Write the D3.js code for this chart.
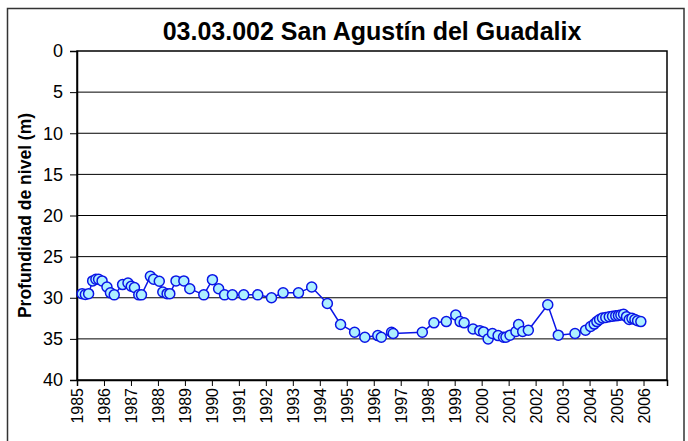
<!DOCTYPE html>
<html>
<head>
<meta charset="utf-8">
<script src="https://cdn.jsdelivr.net/npm/d3@7"></script>
<style>
body { margin: 0; background: #fff; }
text { font-family: "Liberation Sans", Arial, sans-serif; }
</style>
</head>
<body>
<div id="chart-area"></div>
<script>
// fecha (año decimal) y profundidad (m)
var fechas = [1985.19, 1985.31, 1985.43, 1985.58, 1985.70, 1985.80, 1985.93, 1986.11, 1986.24, 1986.38,
    1986.69, 1986.89, 1987.01, 1987.13, 1987.29, 1987.39, 1987.72, 1987.84, 1988.05, 1988.18,
    1988.34, 1988.44, 1988.67, 1988.96, 1989.18, 1989.70, 1990.02, 1990.25, 1990.47, 1990.76,
    1991.18, 1991.70, 1992.21, 1992.64, 1993.21, 1993.70, 1994.28, 1994.77, 1995.29, 1995.67,
    1996.15, 1996.28, 1996.66, 1996.72, 1997.80, 1998.23, 1998.69, 1999.04, 1999.20, 1999.35,
    1999.68, 1999.93, 2000.07, 2000.24, 2000.40, 2000.61, 2000.81, 2000.90, 2001.05, 2001.27,
    2001.37, 2001.52, 2001.73, 2002.45, 2002.84, 2003.46, 2003.85, 2004.04, 2004.17, 2004.27,
    2004.37, 2004.48, 2004.60, 2004.73, 2004.85, 2004.97, 2005.07, 2005.16, 2005.26, 2005.37,
    2005.47, 2005.57, 2005.68, 2005.78, 2005.90];
var profundidad = [29.5, 29.6, 29.5, 27.95, 27.75, 27.75, 27.95, 28.7, 29.4, 29.65,
    28.4, 28.2, 28.6, 28.75, 29.65, 29.65, 27.4, 27.75, 28.0, 29.3,
    29.5, 29.5, 27.95, 27.95, 28.9, 29.65, 27.8, 28.9, 29.65, 29.65,
    29.65, 29.65, 30.0, 29.4, 29.4, 28.7, 30.7, 33.25, 34.2, 34.8,
    34.6, 34.8, 34.2, 34.35, 34.2, 33.05, 32.9, 32.1, 32.9, 33.05,
    33.8, 34.0, 34.15, 35.0, 34.35, 34.6, 34.8, 34.8, 34.55, 34.1,
    33.25, 34.1, 33.95, 30.85, 34.55, 34.35, 33.95, 33.5, 33.2, 32.9,
    32.65, 32.45, 32.4, 32.3, 32.25, 32.2, 32.15, 32.1, 32.0, 32.3,
    32.65, 32.5, 32.65, 32.8, 32.9];
var anios = d3.range(1985, 2007);
var yTicks = [0, 5, 10, 15, 20, 25, 30, 35, 40];

var width = 688,
    height = 441,
    margin = {top: 51, right: 21, bottom: 61, left: 77};

var svg = d3.select("#chart-area")
    .append("svg")
    .attr("width", width)
    .attr("height", height);

// marco exterior
svg.append("rect")
    .attr("x", 7.5)
    .attr("y", 8.5)
    .attr("width", 676.5)
    .attr("height", 450)
    .attr("fill", "none")
    .attr("stroke", "#333")
    .attr("stroke-width", 1.5);

var x = d3.scaleLinear()
    .domain([1985, 2006.87])
    .range([margin.left, width - margin.right]);

var y = d3.scaleLinear()
    .domain([0, 40])
    .range([margin.top, height - margin.bottom]);

// rejilla
svg.append("g")
    .selectAll("line")
    .data(yTicks.slice(1, -1))
    .enter().append("line")
    .attr("x1", margin.left)
    .attr("x2", width - margin.right)
    .attr("y1", function(d) { return y(d); })
    .attr("y2", function(d) { return y(d); })
    .attr("stroke", "#000")
    .attr("stroke-width", 1);

svg.append("rect")
    .attr("x", margin.left)
    .attr("y", margin.top)
    .attr("width", width - margin.right - margin.left)
    .attr("height", height - margin.bottom - margin.top)
    .attr("fill", "none")
    .attr("stroke", "#000")
    .attr("stroke-width", 1.5);

// ejes
var yAxis = svg.append("g")
    .attr("transform", "translate(" + margin.left + ",0)")
    .call(d3.axisLeft(y).tickValues(yTicks).tickSize(7).tickPadding(7));

var xAxis = svg.append("g")
    .attr("transform", "translate(0," + (height - margin.bottom) + ")")
    .call(d3.axisBottom(x).tickValues(anios).tickFormat(d3.format("d")).tickSize(6).tickPadding(0));

[yAxis, xAxis].forEach(function(a) {
    a.select(".domain").attr("stroke", "#000").attr("stroke-width", 1.5);
    a.selectAll(".tick line").attr("stroke", "#000").attr("stroke-width", 1);
    a.selectAll("text")
        .attr("fill", "#000")
        .style("font-family", "'Liberation Sans', Arial, sans-serif");
});

yAxis.selectAll("text").style("font-size", "18px");

xAxis.selectAll("text")
    .style("font-size", "16px")
    .attr("transform", "rotate(-90)")
    .attr("text-anchor", "end")
    .attr("x", -8)
    .attr("y", 0)
    .attr("dy", "0.35em");

// serie
var serie = fechas.map(function(d, i) { return [d, profundidad[i]]; });

svg.append("path")
    .datum(serie)
    .attr("fill", "none")
    .attr("stroke", "#0a14e6")
    .attr("stroke-width", 1.5)
    .attr("d", d3.line()
        .x(function(d) { return x(d[0]); })
        .y(function(d) { return y(d[1]); }));

svg.append("g")
    .selectAll("circle")
    .data(serie)
    .enter().append("circle")
    .attr("cx", function(d) { return x(d[0]); })
    .attr("cy", function(d) { return y(d[1]); })
    .attr("r", 5)
    .attr("fill", "#aef0ff")
    .attr("stroke", "#0a14e6")
    .attr("stroke-width", 1.5);

// textos
svg.append("text")
    .attr("x", (margin.left + width - margin.right) / 2)
    .attr("y", 40)
    .attr("text-anchor", "middle")
    .style("font-size", "25px")
    .style("font-weight", "bold")
    .text("03.03.002 San Agustín del Guadalix");

svg.append("text")
    .attr("transform", "translate(31," + ((margin.top + height - margin.bottom) / 2) + ")rotate(-90)")
    .attr("text-anchor", "middle")
    .style("font-size", "17.5px")
    .style("font-weight", "bold")
    .text("Profundidad de nivel (m)");
</script>
</body>
</html>
